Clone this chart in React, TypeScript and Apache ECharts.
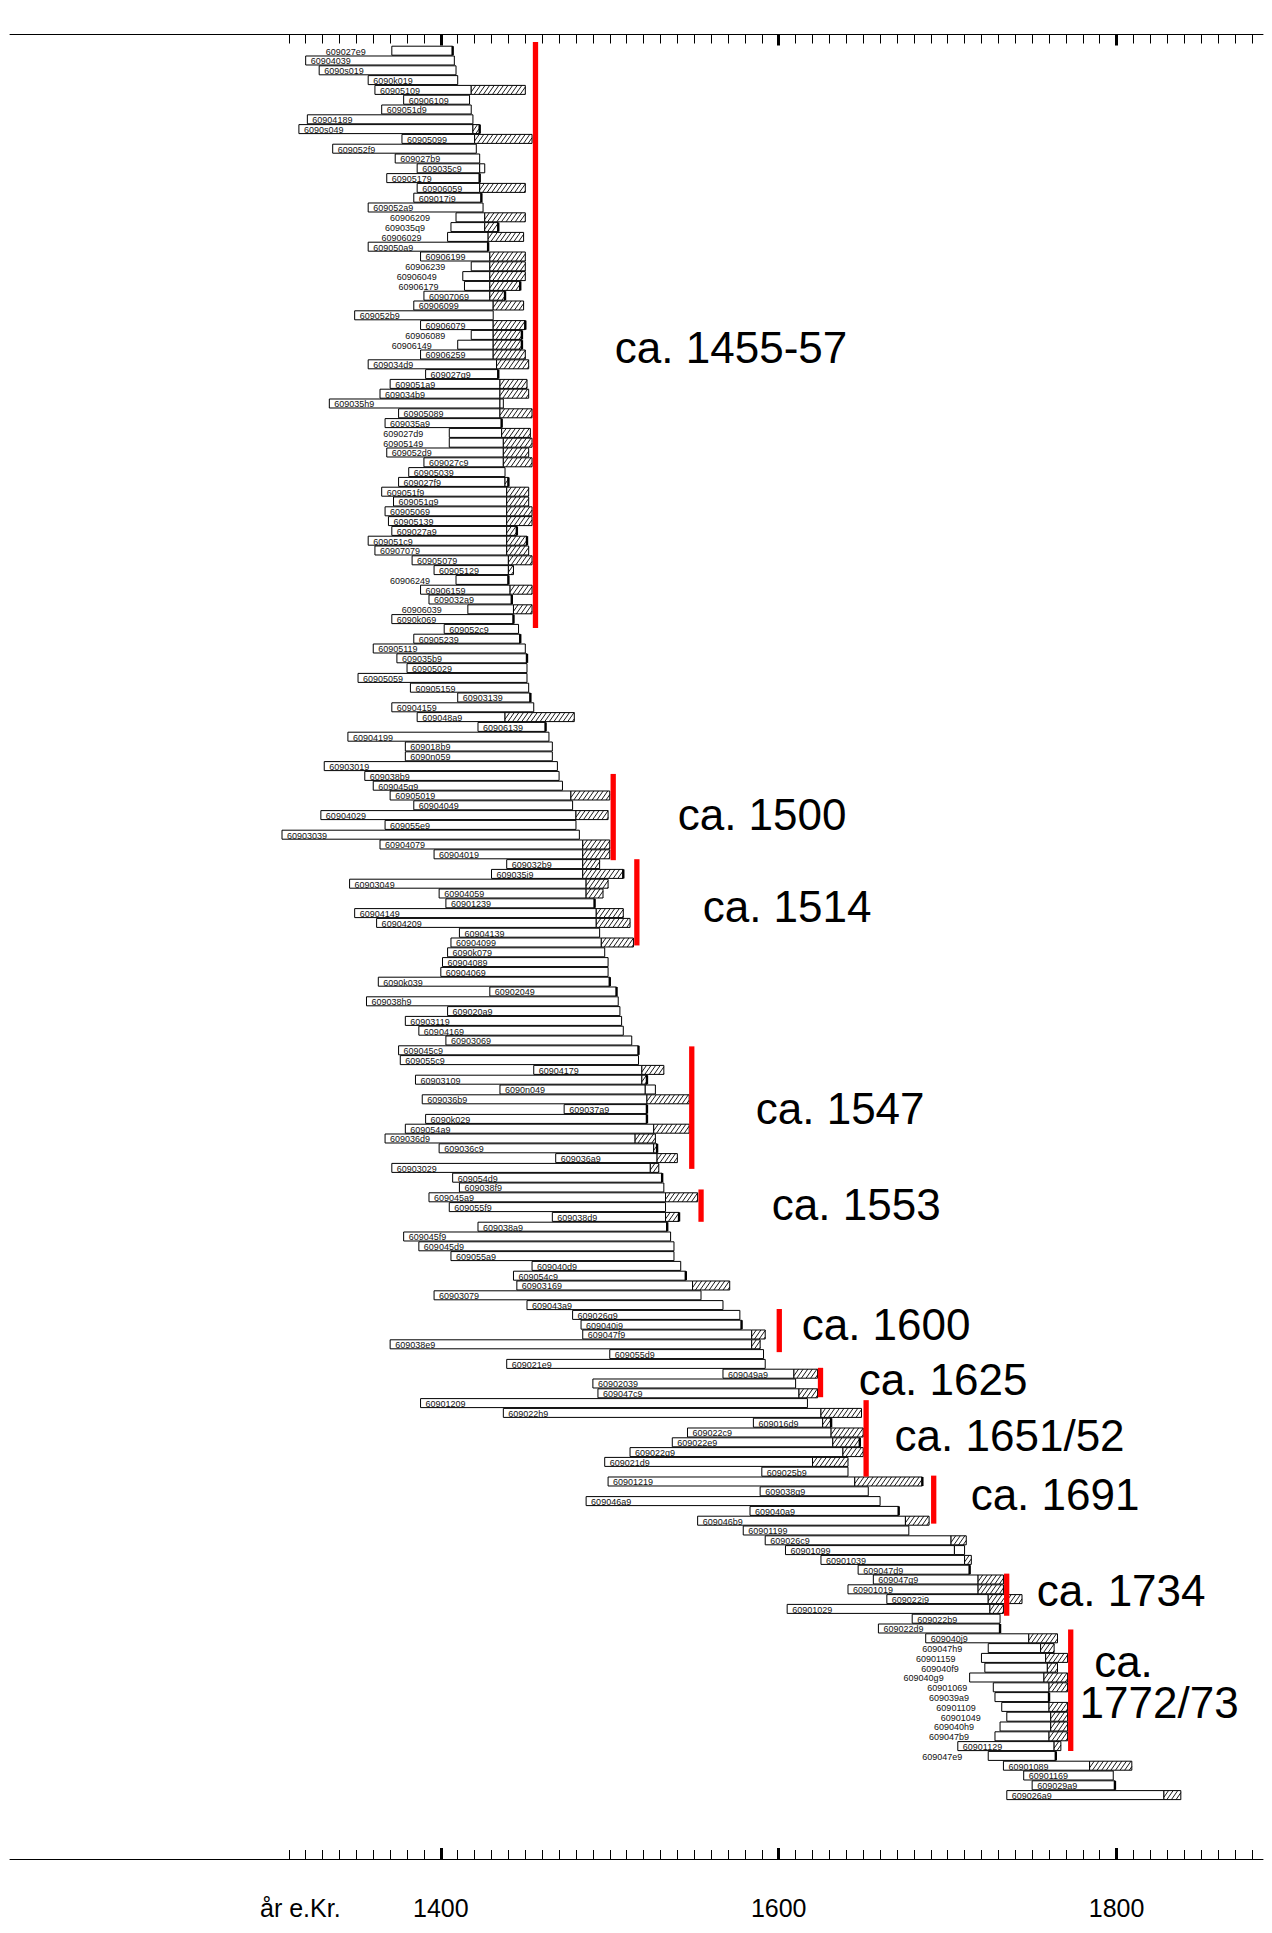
import React, { useEffect, useRef } from "react";
import * as echarts from "echarts";

// ---------- DATA ----------
const labels = [
  "609027e9","60904039","6090s019","6090k019","60905109","60906109","609051d9","60904189","6090s049","60905099",
  "609052f9","609027b9","609035c9","60905179","60906059","609017i9","609052a9","60906209","609035q9","60906029",
  "609050a9","60906199","60906239","60906049","60906179","60907069","60906099","609052b9","60906079","60906089",
  "60906149","60906259","609034d9","609027g9","609051a9","609034b9","609035h9","60905089","609035a9","609027d9",
  "60905149","609052d9","609027c9","60905039","609027f9","609051f9","609051g9","60905069","60905139","609027a9",
  "609051c9","60907079","60905079","60905129","60906249","60906159","609032a9","60906039","6090k069","609052c9",
  "60905239","60905119","609035b9","60905029","60905059","60905159","60903139","60904159","609048a9","60906139",
  "60904199","609018b9","6090n059","60903019","609038b9","609045g9","60905019","60904049","60904029","609055e9",
  "60903039","60904079","60904019","609032b9","609035i9","60903049","60904059","60901239","60904149","60904209",
  "60904139","60904099","6090k079","60904089","60904069","6090k039","60902049","609038h9","609020a9","60903119",
  "60904169","60903069","609045c9","609055c9","60904179","60903109","6090n049","609036b9","609037a9","6090k029",
  "609054a9","609036d9","609036c9","609036a9","60903029","609054d9","609038f9","609045a9","609055f9","609038d9",
  "609038a9","609045f9","609045d9","609055a9","609040d9","609054c9","60903169","60903079","609043a9","609026g9",
  "609040i9","609047f9","609038e9","609055d9","609021e9","609049a9","60902039","609047c9","60901209","609022h9",
  "609016d9","609022c9","609022e9","609022g9","609021d9","609025b9","60901219","609038g9","609046a9","609040a9",
  "609046b9","60901199","609026c9","60901099","60901039","609047d9","609047g9","60901019","609022i9","60901029",
  "609022b9","609022d9","609040j9","609047h9","60901159","609040f9","609040g9","60901069","609039a9","60901109",
  "60901049","609040h9","609047b9","60901129","609047e9","60901089","60901169","609029a9","609026a9"
];

const starts = [
  1371,1320,1328,1357,1361,1378,1365,1321,1316,1377,
  1336,1373,1386,1368,1386,1384,1357,1409,1406,1404,
  1357,1388,1418,1413,1414,1390,1384,1349,1388,1418,
  1410,1388,1357,1391,1370,1364,1334,1375,1367,1405,
  1405,1368,1390,1381,1375,1365,1372,1367,1369,1371,
  1357,1361,1383,1396,1409,1388,1393,1416,1371,1402,
  1384,1360,1374,1380,1351,1382,1410,1371,1386,1422,
  1345,1379,1379,1331,1355,1360,1370,1384,1329,1367,
  1306,1364,1396,1439,1430,1346,1399,1403,1349,1362,
  1411,1406,1404,1401,1400,1363,1429,1356,1404,1379,
  1387,1403,1375,1376,1455,1385,1435,1389,1473,1391,
  1379,1367,1399,1468,1371,1407,1411,1393,1405,1466,
  1422,1378,1387,1406,1454,1443,1445,1396,1451,1478,
  1483,1484,1370,1500,1439,1567,1490,1493,1388,1437,
  1585,1546,1537,1512,1497,1590,1499,1589,1486,1583,
  1552,1579,1592,1604,1625,1647,1656,1641,1664,1605,
  1679,1659,1687,1724,1720,1722,1713,1727,1728,1732,
  1735,1731,1728,1706,1724,1733,1745,1750,1735
];

const heartEnds = [
  1407,1408,1409,1410,1418,1417,1418,1419,1419,1420,
  1421,1423,1423,1423,1423,1424,1425,1426,1426,1428,
  1428,1429,1429,1429,1429,1429,1431,1431,1431,1431,
  1431,1431,1433,1434,1435,1435,1435,1435,1436,1436,
  1437,1437,1437,1438,1438,1439,1439,1439,1439,1439,
  1439,1439,1440,1440,1440,1441,1442,1443,1443,1446,
  1447,1450,1451,1451,1451,1452,1453,1455,1438,1462,
  1464,1466,1466,1469,1470,1472,1477,1478,1480,1480,
  1482,1484,1484,1484,1484,1486,1486,1491,1492,1492,
  1494,1495,1497,1499,1499,1500,1504,1505,1506,1507,
  1508,1513,1517,1517,1519,1519,1521,1522,1522,1522,
  1526,1515,1526,1528,1524,1531,1532,1533,1533,1533,
  1534,1536,1538,1538,1542,1545,1549,1554,1567,1577,
  1578,1584,1584,1591,1592,1609,1610,1612,1617,1625,
  1626,1631,1632,1638,1620,1641,1645,1653,1660,1671,
  1675,1677,1702,1704,1710,1713,1718,1718,1724,1725,
  1731,1731,1748,1755,1758,1759,1757,1760,1760,1760,
  1761,1761,1760,1763,1764,1784,1798,1799,1828
];

const sapEnds: (number | null)[] = [
  null,null,null,null,1450,null,null,null,1423,1454,
  null,null,1426,null,1450,null,null,1450,1434,1449,
  null,1450,1450,1450,1447,1438,1449,null,1450,1448,
  1448,1450,1452,null,1451,1452,1437,1454,null,1453,
  1454,1452,1454,null,1440,1452,1452,1454,1454,1445,
  1451,1452,1454,1443,null,1454,null,1454,null,null,
  null,null,null,null,null,null,null,null,1479,null,
  null,null,null,null,null,null,1500,null,1499,null,
  null,1500,1500,1494,1508,1499,1496,null,1508,1512,
  null,1514,null,null,null,null,null,null,null,null,
  null,null,null,null,1532,1522,1527,1547,null,null,
  1547,1527,1528,1540,1529,null,null,1552,null,1541,
  null,null,null,null,null,null,1571,null,null,null,
  null,1592,1589,null,null,1623,null,1623,null,1649,
  1631,1650,1648,1650,1641,null,1685,null,null,null,
  1689,null,1711,1710,1714,null,1733,1733,1744,1733,
  null,null,1765,1763,1771,1765,1771,1771,null,1771,
  1771,1771,1771,1767,null,1809,null,null,1838
];

// samples whose last ring is marked with a black end
const blackEnds = [
  "609027e9","6090s049","60905179","609017i9","609035q9","609050a9","60906179","60907069","60906079","60906089",
  "60906149","609027g9","609035a9","609027f9","609027a9","609051c9","60906249","609032a9","6090k069","60905239",
  "609035b9","60903139","60906139","609035i9","60901239","6090k039","60902049","609045c9","60903109","609037a9",
  "6090k029","609036c9","609054d9","609038d9","609038a9","609054c9","609040i9","609016d9","609022e9","60901219",
  "609040a9","609047d9","609022d9","609039a9","609047e9","609029a9"
];
// samples whose outer segment is an open (unhatched) box
const openEnds = ["609035c9","609035h9","6090n049","60901099"];
// samples whose label stands to the left of the bar
const outsideLabels = [
  "609027e9","60906209","609035q9","60906029","60906239","60906049","60906179","60906089","60906149","609027d9",
  "60905149","60906249","60906039","609047h9","60901159","609040f9","609040g9","60901069","609039a9","60901109",
  "60901049","609040h9","609047b9","609047e9"
];

// dating lines (year, first row, last row)
const noteLineYears = [1456, 1502, 1516, 1548.5, 1554, 1600.3, 1624.7, 1651.7, 1691.7, 1734.9, 1772.8];
const noteRowFrom = [-0.9, 73.8, 82.5, 101.6, 116.2, 128.4, 134.4, 137.7, 145.4, 155.4, 161.1];
const noteRowTo = [58.9, 82.6, 91.3, 114.1, 119.5, 132.8, 137.4, 145.5, 150.3, 159.7, 173.5];

const noteLabels = ["ca. 1455-57","ca. 1500","ca. 1514","ca. 1547","ca. 1553","ca. 1600","ca. 1625","ca. 1651/52","ca. 1691","ca. 1734","ca.","1772/73"];

const axisLabelYears = [1400, 1600, 1800];
const axisTitle = "år e.Kr.";

// ---------- LAYOUT ----------
const W = 1272;
const H = 1933;
const GRID_LEFT = 10;
const GRID_TOP = 34.5;
const GRID_W = 1253;
const GRID_H = 1824.5;
const PX_PER_YEAR = 1.6895;
const X_MIN = 1145;
const X_MAX = X_MIN + GRID_W / PX_PER_YEAR;
const ROW_PX = 9.8;
const Y_MIN = -1.653;
const Y_MAX = Y_MIN + GRID_H / ROW_PX;
const BAR_H = 9;
const FONT = "'Liberation Sans', Arial, Helvetica, sans-serif";

// label anchors (year, row) for the dating labels
const noteLabelYears = [1503, 1540.2, 1555, 1586.4, 1595.9, 1613.6, 1647.3, 1668.6, 1713.6, 1752.7, 1786.7, 1778.1];
const noteLabelRows = [30.3, 77.96, 87.3, 107.9, 117.7, 130.0, 135.6, 141.3, 147.3, 157.1, 164.4, 168.6];

const tickYears: number[] = [];
for (let y = 1310; y <= 1880; y += 10) tickYears.push(y);

function hatch(xa: number, xb: number, top: number, h: number) {
  const out: any[] = [];
  const dx = 6.3;
  const step = 4.6;
  const bottom = top + h;
  for (let x0 = xa - dx; x0 < xb; x0 += step) {
    const t0 = Math.max(0, (xa - x0) / dx);
    const t1 = Math.min(1, (xb - x0) / dx);
    if (t1 <= t0) continue;
    out.push({
      type: "line",
      shape: { x1: x0 + t0 * dx, y1: bottom - t0 * h, x2: x0 + t1 * dx, y2: bottom - t1 * h },
      style: { stroke: "#000", lineWidth: 0.9 },
      silent: true,
    });
  }
  return out;
}

function renderBar(params: any, api: any) {
  const i = api.value(3);
  const label = labels[params.dataIndex];
  const s = api.coord([api.value(0), i]);
  const he = api.coord([api.value(1), i]);
  const se = api.coord([api.value(2), i]);
  const yc = s[1];
  const top = yc - BAR_H / 2;
  const children: any[] = [];
  children.push({
    type: "rect",
    shape: { x: s[0], y: top, width: he[0] - s[0], height: BAR_H },
    style: { fill: "#fff", stroke: "#000", lineWidth: 1 },
  });
  if (se[0] > he[0] + 0.1) {
    children.push({
      type: "rect",
      shape: { x: he[0], y: top, width: se[0] - he[0], height: BAR_H },
      style: { fill: "#fff" },
    });
    if (!openEnds.includes(label)) children.push(...hatch(he[0], se[0], top, BAR_H));
    children.push({
      type: "rect",
      shape: { x: he[0], y: top, width: se[0] - he[0], height: BAR_H },
      style: { fill: "none", stroke: "#000", lineWidth: 1 },
    });
  }
  if (blackEnds.includes(label)) {
    const xe = Math.max(he[0], se[0]);
    children.push({
      type: "rect",
      shape: { x: xe - 1.2, y: top, width: 2.4, height: BAR_H },
      style: { fill: "#000" },
    });
  }
  const outside = outsideLabels.includes(label);
  children.push({
    type: "text",
    x: outside ? s[0] - 26 : s[0] + 5,
    y: yc + 1,
    style: {
      text: label,
      fontSize: 9,
      fontFamily: FONT,
      fill: "#111",
      align: outside ? "right" : "left",
      verticalAlign: "middle",
    },
  });
  return { type: "group", children };
}

function renderNoteLine(params: any, api: any) {
  const a = api.coord([api.value(0), api.value(1)]);
  const b = api.coord([api.value(0), api.value(2)]);
  return {
    type: "rect",
    shape: { x: a[0] - 2.6, y: a[1], width: 5.3, height: b[1] - a[1] },
    style: { fill: "#ff0000" },
  };
}

function renderNoteLabel(params: any, api: any) {
  const p = api.coord([api.value(0), api.value(1)]);
  return {
    type: "text",
    x: p[0],
    y: p[1],
    style: {
      text: noteLabels[params.dataIndex],
      fontSize: 44,
      lineHeight: 36,
      fontFamily: FONT,
      fill: "#000",
      align: "left",
      verticalAlign: "middle",
    },
  };
}

function baseAxis(position: "top" | "bottom") {
  return {
    type: "value" as const,
    position,
    min: X_MIN,
    max: X_MAX,
    splitLine: { show: false },
  };
}

export default function App() {
  const ref = useRef<HTMLDivElement>(null);
  useEffect(() => {
    document.body.style.margin = "0";
    const chart = echarts.init(ref.current!, null, { renderer: "svg" });
    const option: any = {
      animation: false,
      backgroundColor: "#fff",
      grid: { left: GRID_LEFT, top: GRID_TOP, width: GRID_W, height: GRID_H, containLabel: false },
      xAxis: [
        {
          ...baseAxis("top"),
          axisLine: { show: true, onZero: false, lineStyle: { color: "#000", width: 1 } },
          axisTick: { show: true, inside: true, length: 9, customValues: tickYears, lineStyle: { color: "#000", width: 1 } },
          axisLabel: { show: false },
        },
        {
          ...baseAxis("top"),
          axisLine: { show: false, onZero: false },
          axisTick: { show: true, inside: true, length: 11, customValues: axisLabelYears, lineStyle: { color: "#000", width: 3 } },
          axisLabel: { show: false },
        },
        {
          ...baseAxis("bottom"),
          axisLine: { show: true, onZero: false, lineStyle: { color: "#000", width: 1 } },
          axisTick: { show: true, inside: true, length: 9, customValues: tickYears, lineStyle: { color: "#000", width: 1 } },
          axisLabel: {
            show: true,
            customValues: axisLabelYears,
            formatter: (v: number) => String(v),
            fontSize: 25,
            fontFamily: FONT,
            color: "#000",
            margin: 36,
          },
        },
        {
          ...baseAxis("bottom"),
          axisLine: { show: false, onZero: false },
          axisTick: { show: true, inside: true, length: 11, customValues: axisLabelYears, lineStyle: { color: "#000", width: 3 } },
          axisLabel: { show: false },
        },
      ],
      yAxis: {
        type: "value",
        min: Y_MIN,
        max: Y_MAX,
        inverse: true,
        show: false,
        splitLine: { show: false },
      },
      series: [
        {
          type: "custom",
          name: "samples",
          coordinateSystem: "cartesian2d",
          xAxisIndex: 0,
          yAxisIndex: 0,
          clip: false,
          renderItem: renderBar,
          encode: { x: [0, 1, 2], y: 3 },
          data: labels.map((_, i) => [starts[i], heartEnds[i], sapEnds[i] ?? heartEnds[i], i]),
        },
        {
          type: "custom",
          name: "dating",
          coordinateSystem: "cartesian2d",
          xAxisIndex: 0,
          yAxisIndex: 0,
          clip: false,
          renderItem: renderNoteLine,
          encode: { x: 0, y: [1, 2] },
          data: noteLineYears.map((y, k) => [y, noteRowFrom[k], noteRowTo[k]]),
        },
        {
          type: "custom",
          name: "datingLabels",
          coordinateSystem: "cartesian2d",
          xAxisIndex: 0,
          yAxisIndex: 0,
          clip: false,
          renderItem: renderNoteLabel,
          encode: { x: 0, y: 1 },
          data: noteLabelYears.map((y, k) => [y, noteLabelRows[k]]),
        },
      ],
      graphic: [
        {
          type: "text",
          left: 260,
          top: 1895,
          style: { text: axisTitle, fontSize: 25, fontFamily: FONT, fill: "#000" },
        },
      ],
    };
    chart.setOption(option);
    return () => chart.dispose();
  }, []);
  return <div ref={ref} style={{ width: W, height: H }} />;
}
